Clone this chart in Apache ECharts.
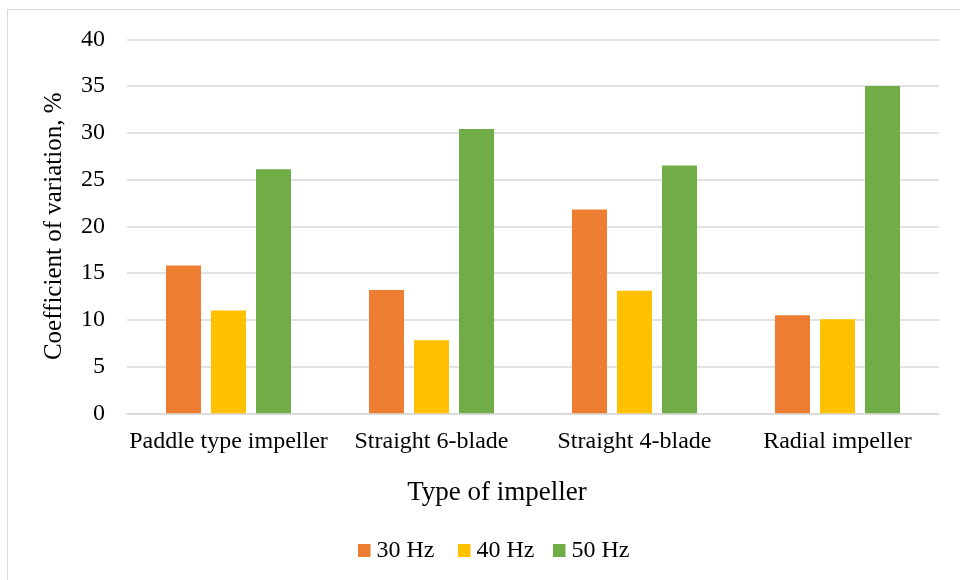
<!DOCTYPE html>
<html>
<head>
<meta charset="utf-8">
<script src="https://cdn.jsdelivr.net/npm/echarts@6/dist/echarts.min.js"></script>
<style>
html,body{margin:0;padding:0;background:#fff;}
#chart{width:960px;height:580px;}
</style>
</head>
<body>
<div id="chart"></div>
<script>
const categories = ['Paddle type impeller', 'Straight 6-blade', 'Straight 4-blade', 'Radial impeller'];
const seriesNames = ['30 Hz', '40 Hz', '50 Hz'];
const hz30 = [15.8, 13.2, 21.8, 10.5];
const hz40 = [11.0, 7.8, 13.1, 10.05];
const hz50 = [26.1, 30.4, 26.5, 35.0];
const yTicks = [0, 5, 10, 15, 20, 25, 30, 35, 40];

const FONT = '"Liberation Serif", "Times New Roman", serif';
const chart = echarts.init(document.getElementById('chart'), null, {renderer: 'canvas'});
const barCommon = {type: 'bar', barWidth: 35, barGap: '28.6%'};
const legendLefts = [353, 453, 548];
const legends = seriesNames.map((n, i) => ({
  left: legendLefts[i], top: 533.5,
  icon: 'rect', itemWidth: 12.5, itemHeight: 13,
  textStyle: {fontFamily: FONT, fontSize: 24, color: '#000', padding: [0, 0, 0, 1]},
  data: [n]
}));
chart.setOption({
  backgroundColor: '#ffffff',
  animation: false,
  textStyle: {fontFamily: FONT, color: '#000'},
  grid: {left: 127, right: 21, top: 39.3, bottom: 166.7},
  legend: legends,
  xAxis: {
    type: 'category',
    data: categories,
    axisTick: {show: false},
    axisLine: {lineStyle: {color: '#d9d9d9', width: 1.5}},
    axisLabel: {fontFamily: FONT, fontSize: 24, color: '#000', margin: 16, interval: 0}
  },
  yAxis: {
    type: 'value',
    min: yTicks[0], max: yTicks[yTicks.length - 1], interval: 5,
    name: 'Coefficient of variation, %',
    nameLocation: 'middle',
    nameGap: 60,
    nameTextStyle: {fontFamily: FONT, fontSize: 25, color: '#000'},
    axisLine: {show: false},
    axisTick: {show: false},
    axisLabel: {fontFamily: FONT, fontSize: 24, color: '#000', margin: 22},
    splitLine: {lineStyle: {color: '#d9d9d9', width: 1.5}}
  },
  graphic: [
    {type: 'rect', shape: {x: 7.5, y: 9.5, width: 1000, height: 1000}, style: {fill: 'none', stroke: '#d9d9d9', lineWidth: 1}, silent: true},
    {type: 'text', x: 497, y: 493, style: {text: 'Type of impeller', font: '27px ' + FONT, fill: '#000', textAlign: 'center', textVerticalAlign: 'middle'}}
  ],
  series: [
    Object.assign({name: seriesNames[0], data: hz30, itemStyle: {color: '#ED7D31'}}, barCommon),
    Object.assign({name: seriesNames[1], data: hz40, itemStyle: {color: '#FFC000'}}, barCommon),
    Object.assign({name: seriesNames[2], data: hz50, itemStyle: {color: '#70AD47'}}, barCommon)
  ]
});
</script>
</body>
</html>
